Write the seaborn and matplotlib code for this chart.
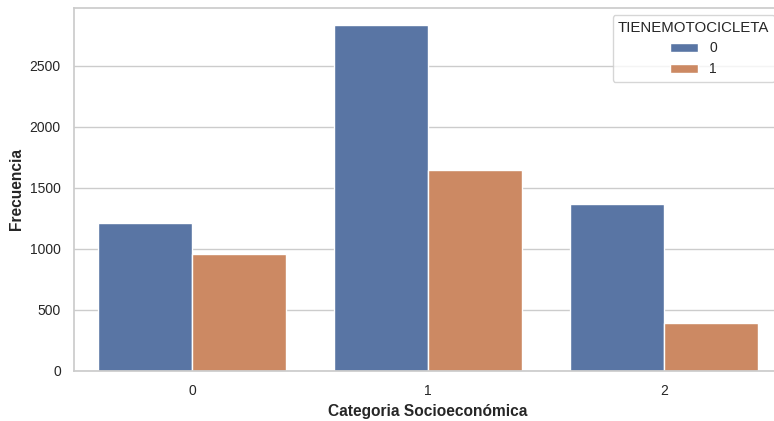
import pandas as pd
import matplotlib.pyplot as plt
import seaborn as sns

# === data ===
categorias = ["0", "1", "2"]
moto_0 = [1210, 2835, 1368]
moto_1 = [958, 1648, 393]

df = pd.DataFrame({
    "CategoriaSocioeconomica": categorias * 2,
    "TIENEMOTOCICLETA": ["0"] * 3 + ["1"] * 3,
    "Frecuencia": moto_0 + moto_1,
})

# === plot ===
sns.set_theme(style="whitegrid")
plt.rcParams["font.family"] = ["Liberation Sans", "DejaVu Sans"]

fig = plt.figure(figsize=(7.74, 4.21), dpi=100)
ax = fig.add_axes([74 / 774, 50 / 421, 708 / 774, 363 / 421])

sns.barplot(
    data=df,
    x="CategoriaSocioeconomica",
    y="Frecuencia",
    hue="TIENEMOTOCICLETA",
    ax=ax,
)

ax.set_xlabel("Categoria Socioeconómica", fontsize=11.2, fontweight="bold")
ax.set_ylabel("Frecuencia", fontsize=11.2, fontweight="bold")
ax.tick_params(labelsize=10)
ax.set_ylim(0, 2975)
ax.legend(title="TIENEMOTOCICLETA", loc="upper right", fontsize=10, title_fontsize=10.8)

fig.savefig("out.png", dpi=100)
